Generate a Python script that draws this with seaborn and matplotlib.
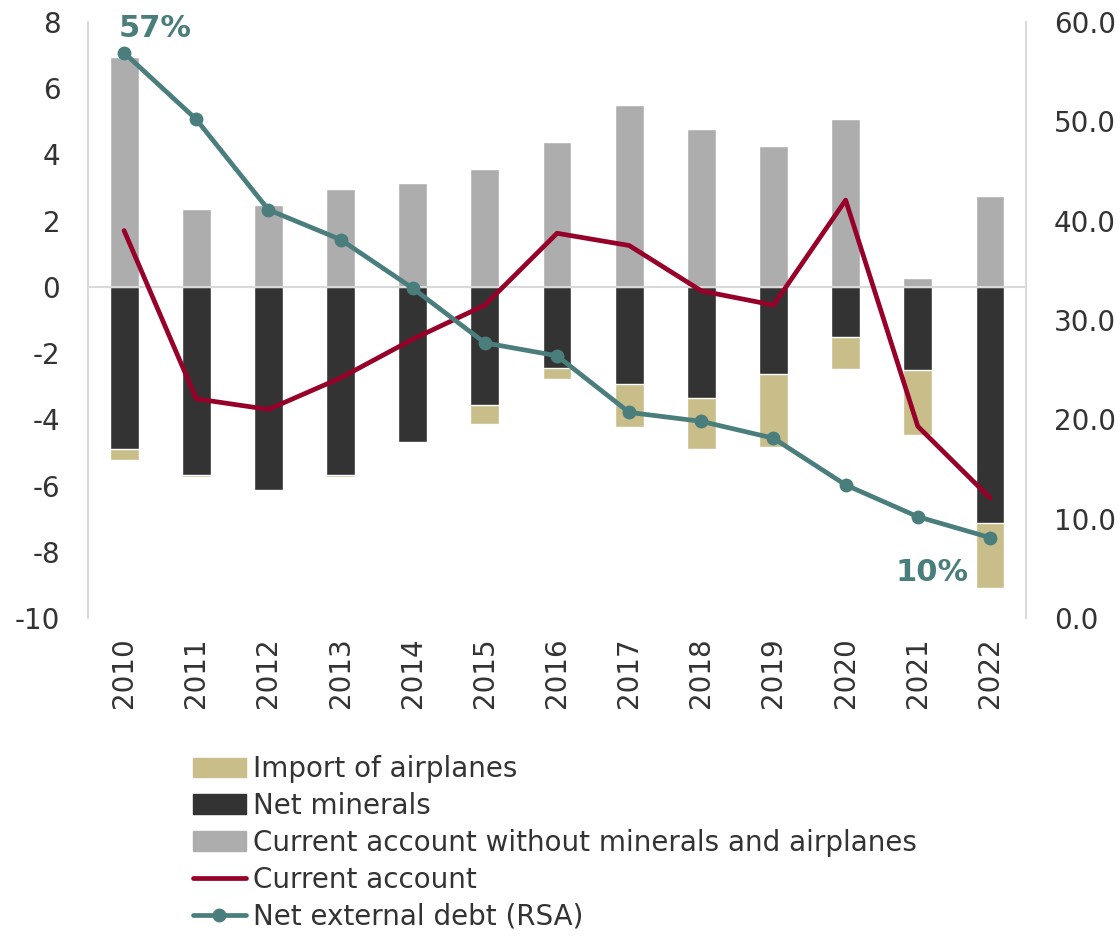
import numpy as np
import pandas as pd
import matplotlib
matplotlib.use("Agg")
import matplotlib.pyplot as plt
import seaborn as sns
from matplotlib.patches import Patch
from matplotlib.lines import Line2D

# data
years = ['2010', '2011', '2012', '2013', '2014', '2015', '2016',
         '2017', '2018', '2019', '2020', '2021', '2022']
ca_ex = [6.95, 2.35, 2.48, 2.97, 3.14, 3.57, 4.39, 5.49, 4.77, 4.25, 5.06, 0.28, 2.75]
net_minerals = [-4.90, -5.68, -6.13, -5.67, -4.68, -3.57, -2.45, -2.93, -3.34, -2.63, -1.51, -2.50, -7.13]
airplanes = [-0.33, -0.05, -0.04, -0.07, -0.04, -0.56, -0.33, -1.30, -1.57, -2.20, -0.96, -1.96, -1.96]
current_account = [1.70, -3.38, -3.70, -2.75, -1.58, -0.55, 1.62, 1.25, -0.12, -0.55, 2.62, -4.21, -6.37]
net_ext_debt = [56.9, 50.2, 41.1, 38.1, 33.2, 27.7, 26.4, 20.7, 19.8, 18.1, 13.4, 10.2, 8.1]

c_air = '#C9BE8A'
c_min = '#333333'
c_ex = '#ADADAD'
c_ca = '#970029'
c_debt = '#4A7E7C'
txt = '#333333'

df = pd.DataFrame({
    'year': years,
    'pos': np.arange(len(years)),
    'ca_ex': ca_ex,
    'minerals': net_minerals,
    'neg_total': np.array(net_minerals) + np.array(airplanes),
    'ca': current_account,
    'debt': net_ext_debt,
})

sns.set_style('white')
plt.rcParams['font.family'] = ['DejaVu Sans']
plt.rcParams['axes.unicode_minus'] = False  # plain hyphen like the original

fig = plt.figure(figsize=(11.2, 9.36), dpi=100)
ax = fig.add_axes([0.0786, 0.3397, 0.9161 - 0.0786, 0.9765 - 0.3397])

# stacked bars: tan total first, dark minerals drawn over it
sns.barplot(data=df, x='year', y='ca_ex', color=c_ex, width=0.4, saturation=1, ax=ax, zorder=2)
sns.barplot(data=df, x='year', y='neg_total', color=c_air, width=0.4, saturation=1, ax=ax, zorder=2)
sns.barplot(data=df, x='year', y='minerals', color=c_min, width=0.4, saturation=1, ax=ax, zorder=2)
ax.axhline(0, color='#D9D9D9', lw=1.5, zorder=2.5)

sns.lineplot(data=df, x='pos', y='ca', color=c_ca, lw=3.4, ax=ax, zorder=4)

ax.set_ylim(-10, 8)
ax.set_xlim(-0.5, len(years) - 0.5)
ax.set_yticks(np.arange(-10, 9, 2))
ax.set_xticks(df['pos'])
ax.set_xticklabels(years, rotation=90)
ax.set_xlabel('')
ax.set_ylabel('')

ax2 = ax.twinx()
sns.lineplot(data=df, x='pos', y='debt', color=c_debt, lw=3.4, marker='o',
             markersize=10, markeredgewidth=0, ax=ax2, zorder=5)
ax2.set_ylim(0, 60)
ax2.set_yticks(np.arange(0, 61, 10))
ax2.set_yticklabels([f'{v:.1f}' for v in np.arange(0, 61, 10)])
ax2.set_ylabel('')

for a in (ax, ax2):
    for s in a.spines.values():
        s.set_visible(False)
    a.tick_params(length=0, labelsize=20, labelcolor=txt)
ax.spines['left'].set_visible(True)
ax.spines['left'].set_color('#D9D9D9')
ax.spines['left'].set_linewidth(1.5)
ax2.spines['right'].set_visible(True)
ax2.spines['right'].set_color('#D9D9D9')
ax2.spines['right'].set_linewidth(1.5)
ax.tick_params(axis='y', pad=20)
ax.tick_params(axis='x', pad=14)
ax2.tick_params(axis='y', pad=20)

ax2.annotate('57%', (0, net_ext_debt[0]), xytext=(-4, 7), textcoords='offset points',
             ha='left', va='bottom', fontsize=22, fontweight='bold', color=c_debt)
ax2.annotate('10%', (len(years) - 1, net_ext_debt[-1]), xytext=(-15, -15), textcoords='offset points',
             ha='right', va='top', fontsize=22, fontweight='bold', color=c_debt)

handles = [
    Patch(color=c_air),
    Patch(color=c_min),
    Patch(color=c_ex),
    Line2D([], [], color=c_ca, lw=3.4),
    Line2D([], [], color=c_debt, lw=3.4, marker='o', markersize=10, markeredgewidth=0),
]
labels = ['Import of airplanes', 'Net minerals',
          'Current account without minerals and airplanes',
          'Current account', 'Net external debt (RSA)']
fig.legend(handles, labels, loc='upper left', bbox_to_anchor=(193 / 1120, 1 - 755 / 936),
           frameon=False, fontsize=20, handlelength=1.9, handletextpad=0.25,
           labelspacing=0.32, borderpad=0, borderaxespad=0, labelcolor=txt)

fig.savefig('out.png', dpi=100)
